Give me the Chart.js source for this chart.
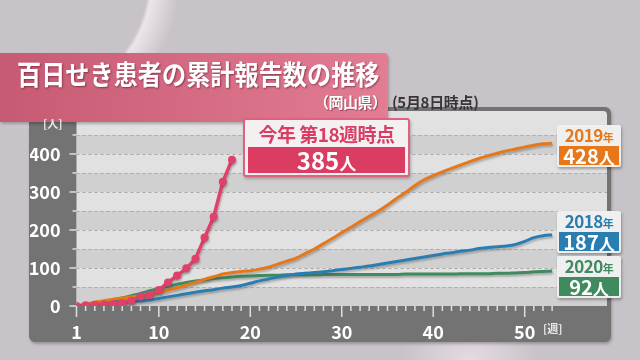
<!DOCTYPE html>
<html>
<head>
<meta charset="utf-8">
<script src="https://cdn.jsdelivr.net/npm/chart.js@4"></script>
<style>
  html, body { margin: 0; padding: 0; }
  body {
    width: 640px; height: 360px; overflow: hidden; position: relative;
    font-family: "Noto Sans CJK JP", "Noto Sans", sans-serif; font-weight: bold;
    background:
      radial-gradient(circle at 30px -20px, rgba(255,255,255,0) 118px, rgba(240,232,238,0.9) 122px, rgba(200,195,200,0) 150px),
      radial-gradient(ellipse at 470px 360px, rgba(235,225,232,0.8) 0, rgba(200,195,200,0) 70px),
      #c8c3c8;
  }
  #frame { position: absolute; left: 29px; top: 107px; width: 582px; height: 235px;
    background: #737373; border-radius: 6px; box-shadow: 1px 2px 3px rgba(0,0,0,0.25); }
  canvas { position: absolute; left: 0; top: 0; }
  #banner { position: absolute; left: 0; top: 53px; width: 388px; height: 69px;
    background: linear-gradient(90deg, #c75a73, #e27d94); border-radius: 0 4px 4px 0;
    box-shadow: 1px 2px 3px rgba(0,0,0,0.25); color: #fff; }
  #title { position: absolute; left: 17px; top: 58px; font-size: 27px; line-height: 32px;
    transform: scaleX(0.895); transform-origin: 0 0;
    color: #fff; text-shadow: 1px 1px 2px rgba(90,20,40,0.6); white-space: nowrap; }
  #pref { position: absolute; left: 314px; top: 92px; font-size: 15px; line-height: 20px; color: #fff;
    letter-spacing: -0.5px; text-shadow: 1px 1px 1px rgba(90,20,40,0.5); }
  #asof { position: absolute; left: 392px; top: 92px; font-size: 15px; line-height: 20px; color: #3a3436; letter-spacing: -0.3px; }
  .unit { position: absolute; font-size: 11px; color: #e8e8e8; line-height: 12px; }
  #callout { position: absolute; left: 243px; top: 118px; width: 163px; height: 55px;
    background: #f4f0f1; border: 2px solid #e0607f; border-radius: 3px; box-shadow: 1px 2px 3px rgba(0,0,0,0.25); }
  #callout .head { position: absolute; left: 0; top: 3px; width: 100%; text-align: center;
    font-size: 19px; line-height: 22px; color: #d93d63; letter-spacing: -0.5px; }
  #callout .val { position: absolute; left: 3px; top: 27px; width: 157px; height: 26px; background: #db3d62;
    text-align: center; color: #fff; font-size: 24px; line-height: 26px; }
  #callout .val small { font-size: 17px; }
  .tag .num small { font-size: 16px; }
  .tag { position: absolute; left: 557px; width: 64px; background: #efefef; border-radius: 2px;
    box-shadow: 1px 2px 3px rgba(0,0,0,0.3); }
  .tag .yr { text-align: center; font-size: 17px; line-height: 18px; margin-top: 1px; letter-spacing: -0.5px; }
  .tag .yr small { font-size: 11px; }
  .tag .num { margin: 0 2px 2px 2px; height: 19px; color: #fff; text-align: center; font-size: 20px; line-height: 19px; }
</style>
</head>
<body>
<div id="frame"></div>
<canvas id="c" width="640" height="360"></canvas>
<div id="banner"></div>
<div id="title">百日せき患者の累計報告数の推移</div>
<div id="pref">（岡山県）</div>
<div id="asof">(5月8日時点)</div>
<div class="unit" style="left:43px; top:117px;">[人]</div>
<div class="unit" style="left:543px; top:322px;">[週]</div>
<div id="callout">
  <div class="head">今年 第18週時点</div>
  <div class="val">385<small>人</small></div>
</div>
<div class="tag" style="top:125px;">
  <div class="yr" style="color:#e6781a;">2019<small>年</small></div>
  <div class="num" style="background:#e6781a;">428<small>人</small></div>
</div>
<div class="tag" style="top:211px;">
  <div class="yr" style="color:#2a7db0;">2018<small>年</small></div>
  <div class="num" style="background:#2a7db0;">187<small>人</small></div>
</div>
<div class="tag" style="top:256px;">
  <div class="yr" style="color:#3f8a5e;">2020<small>年</small></div>
  <div class="num" style="background:#3f8a5e;">92<small>人</small></div>
</div>
<script>
// weeks of the year
const weeks = [1, 2, 3, 4, 5, 6, 7, 8, 9, 10, 11, 12, 13, 14, 15, 16, 17, 18, 19, 20,
  21, 22, 23, 24, 25, 26, 27, 28, 29, 30, 31, 32, 33, 34, 35, 36, 37, 38, 39, 40,
  41, 42, 43, 44, 45, 46, 47, 48, 49, 50, 51, 52, 53];
const weeksThisYear = [1, 2, 3, 4, 5, 6, 7, 8, 9, 10, 11, 12, 13, 14, 15, 16, 17, 18];

// cumulative reports
const thisYear = [0, 2, 3, 4, 5, 7, 14, 25, 29, 42, 62, 80, 99, 124, 180, 235, 327, 385];
const y2019 = [0, 5, 10, 14, 18, 21, 24, 26, 30, 35, 42, 48, 55, 62, 70, 77, 84, 88, 91, 93,
  97, 102, 110, 118, 126, 138, 150, 164, 178, 193, 207, 222, 236, 250, 266, 283, 299, 317, 332, 343,
  353, 362, 371, 380, 388, 395, 402, 408, 413, 418, 423, 427, 428];
const y2018 = [0, 1, 3, 5, 7, 9, 11, 13, 16, 20, 24, 28, 32, 36, 40, 43, 47, 50, 54, 60,
  66, 71, 76, 80, 84, 86, 88, 90, 93, 96, 99, 102, 105, 109, 113, 117, 121, 125, 129, 133,
  137, 140, 144, 147, 151, 154, 156, 158, 162, 170, 180, 185, 187];
const y2020 = [0, 3, 6, 10, 15, 21, 27, 33, 40, 46, 52, 57, 62, 66, 69, 72, 74, 76, 78, 79,
  80, 81, 81, 82, 82, 82, 82, 83, 83, 83, 83, 83, 83, 83, 83, 83, 84, 84, 84, 84,
  84, 84, 85, 85, 85, 85, 86, 86, 87, 88, 90, 91, 92];

const xTicks = [1, 10, 20, 30, 40, 50];
const yTicks = [0, 50, 100, 150, 200, 250, 300, 350, 400, 450, 500];
const yLabels = [0, 100, 200, 300, 400];
const stripes = [[0, 50], [100, 150], [200, 250], [300, 350], [400, 450]];

const pts = (xs, ys) => xs.map((x, i) => ({ x: x, y: ys[i] }));

const panel = {
  id: 'panel',
  beforeDraw(chart) {
    const { ctx, chartArea: a, scales: { x, y } } = chart;
    ctx.save();
    ctx.beginPath();
    ctx.roundRect(a.left, a.top, a.right - a.left, a.bottom - a.top, [4, 4, 0, 0]);
    ctx.fillStyle = '#e1e1e1';
    ctx.fill();
    ctx.clip();
    ctx.fillStyle = '#d0d0d0';
    stripes.forEach(([lo, hi]) => {
      const t = y.getPixelForValue(hi), b = y.getPixelForValue(lo);
      ctx.fillRect(a.left, t, a.right - a.left, b - t);
    });
    ctx.setLineDash([3, 3]);
    ctx.strokeStyle = '#a9a9a9';
    ctx.lineWidth = 1;
    yTicks.slice(1, 10).forEach(v => {
      const py = Math.round(y.getPixelForValue(v)) + 0.5;
      ctx.beginPath(); ctx.moveTo(a.left, py); ctx.lineTo(a.right, py); ctx.stroke();
    });
    ctx.restore();

    // tick marks
    ctx.save();
    ctx.strokeStyle = '#dedede';
    ctx.lineWidth = 1.5;
    weeks.forEach(w => {
      const px = x.getPixelForValue(w);
      const len = xTicks.includes(w) ? 11 : 5;
      ctx.beginPath(); ctx.moveTo(px, a.bottom); ctx.lineTo(px, a.bottom + len); ctx.stroke();
    });
    yTicks.slice(0, 10).forEach(v => {
      const py = y.getPixelForValue(v);
      const len = v % 100 === 0 ? 7 : 4;
      ctx.beginPath(); ctx.moveTo(a.left - len, py); ctx.lineTo(a.left, py); ctx.stroke();
    });
    ctx.restore();
  }
};

const lineShadow = {
  id: 'lineShadow',
  beforeDatasetDraw(chart) {
    const c = chart.ctx;
    c.save();
    c.shadowColor = 'rgba(70,70,70,0.35)';
    c.shadowBlur = 2;
    c.shadowOffsetX = 1;
    c.shadowOffsetY = 2;
  },
  afterDatasetDraw(chart) { chart.ctx.restore(); }
};

const tickFont = { family: '"Noto Sans CJK JP", "Noto Sans", sans-serif', size: 18, weight: 'bold' };

new Chart(document.getElementById('c'), {
  type: 'line',
  data: {
    datasets: [
      { label: '今年', data: pts(weeksThisYear, thisYear), borderColor: '#e0406a', backgroundColor: '#e0406a',
        borderWidth: 3.5, pointRadius: 4, pointBorderWidth: 0, pointBackgroundColor: '#e0406a', tension: 0 },
      { label: '2019年', data: pts(weeks, y2019), borderColor: '#e6781a', borderWidth: 3, pointRadius: 0, tension: 0.3 },
      { label: '2018年', data: pts(weeks, y2018), borderColor: '#2a7db0', borderWidth: 3, pointRadius: 0, tension: 0.3 },
      { label: '2020年', data: pts(weeks, y2020), borderColor: '#3f8a5e', borderWidth: 3, pointRadius: 0, tension: 0.3 },
    ],
  },
  options: {
    responsive: false,
    animation: false,
    layout: { padding: { top: 111, right: 33, bottom: 0, left: 30 } },
    plugins: { legend: { display: false }, tooltip: { enabled: false } },
    scales: {
      x: {
        type: 'linear', min: 1, max: 59,
        grid: { display: false }, border: { display: false },
        afterBuildTicks: s => { s.ticks = xTicks.map(v => ({ value: v })); },
        afterFit: s => { s.height = 54; s.paddingLeft = 0; s.paddingRight = 0; },
        ticks: { color: '#ffffff', font: tickFont, padding: 7, autoSkip: false, maxRotation: 0 },
      },
      y: {
        min: 0, max: 513,
        grid: { display: false }, border: { display: false },
        afterBuildTicks: s => { s.ticks = yTicks.map(v => ({ value: v })); },
        afterFit: s => { s.width = 46.5; s.paddingTop = 0; s.paddingBottom = 0; },
        ticks: { color: '#ffffff', font: tickFont, padding: 8,
          callback: v => (yLabels.includes(v) ? String(v) : '') },
      },
    },
  },
  plugins: [panel, lineShadow],
});
</script>
</body>
</html>
